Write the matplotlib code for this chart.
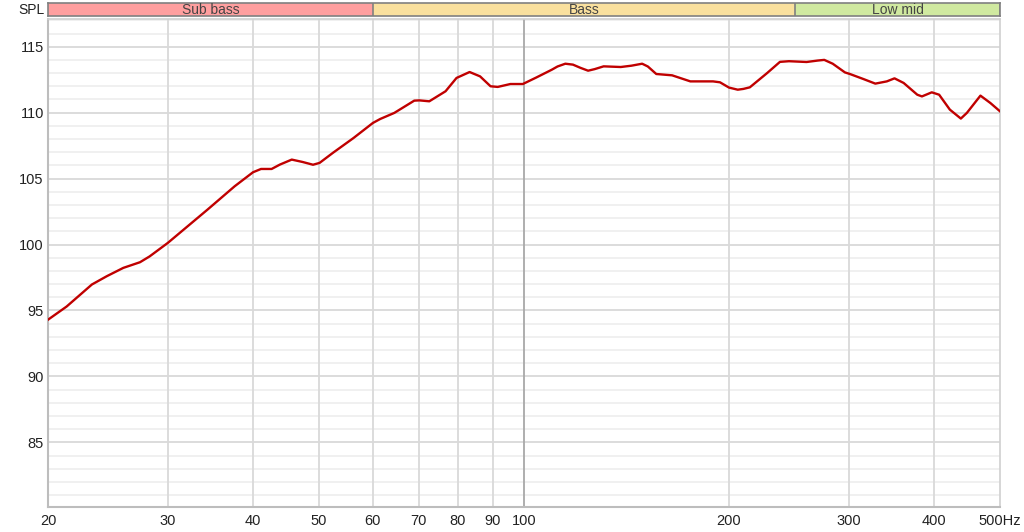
#!/usr/bin/env python
import matplotlib
matplotlib.use('Agg')
import matplotlib.pyplot as pyplot
import numpy

# frequency response (Hz, dB SPL)
freqs = [20.0, 21.3, 23.2, 24.4, 25.8, 27.3, 28.2, 30.0, 34.3, 37.6, 40.0, 41.1,
         42.6, 43.8, 45.6, 47.3, 49.0, 50.1, 52.4, 56.2, 60.0, 61.5, 64.5, 69.0,
         70.2, 72.6, 76.7, 79.6, 83.2, 86.2, 89.3, 91.5, 95.5, 99.6, 104.3, 109.9,
         112.0, 115.0, 118.0, 121.0, 124.2, 127.0, 130.9, 138.7, 143.8, 149.1, 152.0,
         156.4, 165.0, 175.5, 189.5, 194.0, 200.0, 206.0, 210.0, 214.6, 227.5, 237.6,
         245.0, 260.0, 270.0, 276.0, 284.0, 296.0, 301.0, 315.0, 328.0, 341.0, 350.0,
         361.0, 378.0, 384.0, 397.0, 407.0, 422.0, 438.0, 447.0, 468.0, 484.0, 500.0]
spl = [94.3, 95.3, 96.97, 97.6, 98.23, 98.66, 99.1, 100.13, 102.65, 104.42, 105.48, 105.73,
       105.73, 106.06, 106.44, 106.26, 106.05, 106.19, 106.95, 108.08, 109.22, 109.52, 109.98, 110.91,
       110.93, 110.86, 111.62, 112.63, 113.08, 112.75, 112.0, 111.95, 112.17, 112.17, 112.67, 113.26,
       113.5, 113.71, 113.64, 113.4, 113.18, 113.3, 113.51, 113.46, 113.56, 113.71, 113.5,
       112.93, 112.83, 112.37, 112.37, 112.3, 111.9, 111.74, 111.8, 111.92, 113.0, 113.85,
       113.9, 113.84, 113.95, 114.0, 113.71, 113.05, 112.93, 112.55, 112.2, 112.37, 112.6,
       112.25, 111.36, 111.23, 111.54, 111.36, 110.23, 109.55, 109.98, 111.29, 110.73, 110.1]

xticks = [20, 30, 40, 50, 60, 70, 80, 90, 100, 200, 300, 400, 500]
xticklabels = ['20', '30', '40', '50', '60', '70', '80', '90', '100', '200', '300', '400', '500Hz']
yticks = [85, 90, 95, 100, 105, 110, 115]

bands = [('Sub bass', 20, 60, '#ff9f9f'),
         ('Bass', 60, 250, '#f9e09e'),
         ('Low mid', 250, 500, '#d0e9a0')]

pyplot.rcParams['font.family'] = ['Liberation Sans', 'DejaVu Sans']

f = pyplot.figure(figsize=(10.24, 5.32), dpi=100)
ax = f.add_axes([48/1024, 25/532, 952/1024, 488/532])
ax.set_xscale('log')
ax.set_xlim(20, 500)
ax.set_ylim(80.1, 117.1)

# grid
for y in range(81, 118):
    if y % 5 == 0:
        ax.axhline(y, color='#d9d9d9', linewidth=1.3, zorder=1)
    else:
        ax.axhline(y, color='#efefef', linewidth=1.3, zorder=1)
for x in xticks[1:-1]:
    c = '#a8a8a8' if x == 100 else '#d9d9d9'
    ax.axvline(x, color=c, linewidth=1.3, zorder=2)

ax.plot(freqs, spl, color='#c00000', linewidth=1.7, zorder=5,
        solid_joinstyle='round', antialiased=True)

ax.set_xticks(xticks)
ax.set_xticklabels(xticklabels)
ax.xaxis.set_minor_locator(matplotlib.ticker.NullLocator())
ax.set_yticks(yticks)
ax.set_yticklabels([str(y) for y in yticks])
ax.tick_params(axis='both', length=0, labelsize=10.5, colors='#222222')
ax.tick_params(axis='x', pad=5)
ax.tick_params(axis='y', pad=3)
for side in ['left', 'bottom']:
    ax.spines[side].set_color('#bdbdbd')
    ax.spines[side].set_linewidth(1.5)
for side in ['right', 'top']:
    ax.spines[side].set_color('#d0d0d0')
    ax.spines[side].set_linewidth(1.2)

# frequency band header
bax = f.add_axes([48/1024, 516/532, 952/1024, 13/532])
bax.set_xscale('log')
bax.set_xlim(20, 500)
bax.set_ylim(0, 1)
for name, lo, hi, col in bands:
    bax.axvspan(lo, hi, color=col, zorder=1)
    bax.axvline(hi, color='#808080', linewidth=1.2, zorder=2)
    mid = numpy.sqrt(lo*hi)
    bax.text(mid, 0.45, name, ha='center', va='center', fontsize=10, color='#444444')
bax.set_xticks([])
bax.set_yticks([])
bax.xaxis.set_minor_locator(matplotlib.ticker.NullLocator())
for side in bax.spines:
    bax.spines[side].set_color('#808080')
    bax.spines[side].set_linewidth(1.2)
f.text(45/1024, 522/532, 'SPL', ha='right', va='center', fontsize=10, color='#222222')

pyplot.savefig('out.png', dpi=100)
